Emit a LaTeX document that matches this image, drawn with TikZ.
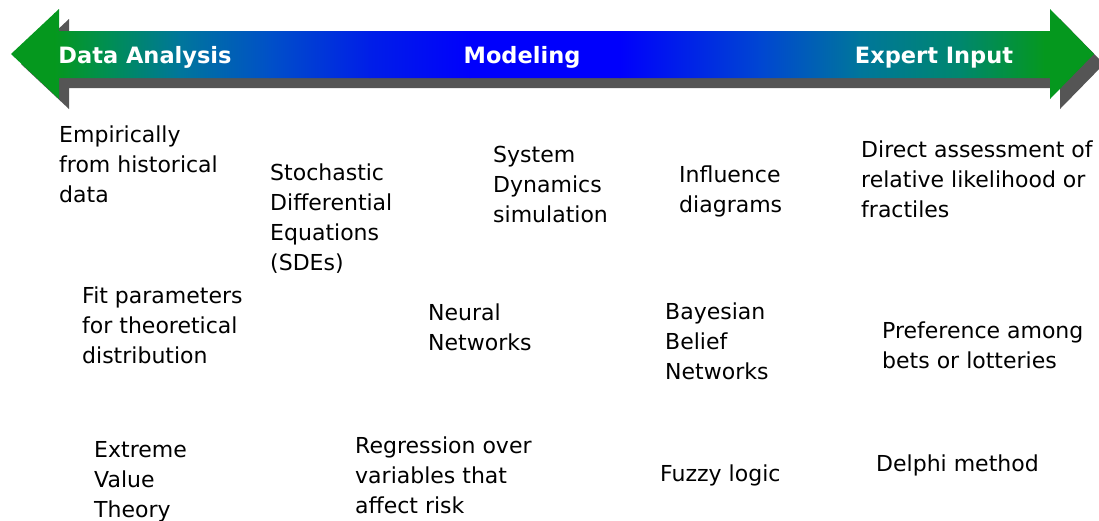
\documentclass[tikz,border=0pt]{standalone}
\usepackage{fontspec}
\setmainfont{DejaVu Sans}
\definecolor{agreen}{RGB}{5,152,30}
\definecolor{agreenb}{RGB}{0,142,85}
\definecolor{ateal}{RGB}{0,118,155}
\definecolor{ateallt}{RGB}{0,135,110}
\definecolor{amid}{RGB}{0,80,200}
\definecolor{amidb}{RGB}{0,30,232}
\definecolor{amidr}{RGB}{0,70,210}
\definecolor{ablue}{RGB}{0,0,252}
\definecolor{ashadow}{RGB}{85,85,85}
\newcommand\firstln{\rule{0pt}{18pt}}
\newcommand\arrowpath{(11,54) -- (59,9) -- (59,31) -- (1050,31) -- (1050,9) -- (1094,54) -- (1050,99) -- (1050,78) -- (59,78) -- (59,99) -- cycle}
\tikzset{
  lbl/.style={anchor=north west, inner sep=0pt, align=left, font=\fontsize{22}{30}\selectfont},
  hdr/.style={text=white, anchor=base, inner sep=0pt, font=\bfseries\fontsize{22.5}{27}\selectfont}
}
\begin{document}
\begin{tikzpicture}[x=1pt,y=-1pt]
\useasboundingbox (0,0) rectangle (1099,520);
% shadow
\fill[ashadow, shift={(10,10)}] \arrowpath;
% arrow with gradient
\begin{scope}
\clip \arrowpath;
\foreach \xa/\xb/\ca/\cb in {0/55/agreen/agreen, 55/110/agreen/agreenb, 110/180/agreenb/ateal, 180/270/ateal/amid, 270/370/amid/amidb, 370/470/amidb/ablue, 470/620/ablue/ablue, 620/760/ablue/amidr, 760/860/amidr/ateal, 860/960/ateal/ateallt, 960/1045/ateallt/agreen, 1045/1100/agreen/agreen}
  \shade[left color=\ca, right color=\cb] (\xa-0.4,0) rectangle (\xb+0.4,110);
\end{scope}
% headings
\node[hdr] (da) at (145,63) {Data Analysis};
\node[hdr] (mo) at (522,63) {Modeling};
\node[hdr] (ei) at (934,63) {Expert Input};
% labels
\node[lbl] (emp) at (59,124) {\firstln Empirically\\from historical\\data};
\node[lbl] (sde) at (270,162) {\firstln Stochastic\\Differential\\Equations\\(SDEs)};
\node[lbl] (sys) at (493,144) {\firstln System\\Dynamics\\simulation};
\node[lbl] (inf) at (679,164) {\firstln Influence\\diagrams};
\node[lbl] (dir) at (861,139) {\firstln Direct assessment of\\relative likelihood or\\fractiles};
\node[lbl] (fit) at (82,285) {\firstln Fit parameters\\for theoretical\\distribution};
\node[lbl] (nn) at (428,302) {\firstln Neural\\Networks};
\node[lbl] (bbn) at (665,301) {\firstln Bayesian\\Belief\\Networks};
\node[lbl] (pref) at (882,320) {\firstln Preference among\\bets or lotteries};
\node[lbl] (evt) at (94,439) {\firstln Extreme\\Value\\Theory};
\node[lbl] (reg) at (355,435) {\firstln Regression over\\variables that\\affect risk};
\node[lbl] (fuz) at (660,463) {\firstln Fuzzy logic};
\node[lbl] (del) at (876,453) {\firstln Delphi method};
\end{tikzpicture}
\end{document}
